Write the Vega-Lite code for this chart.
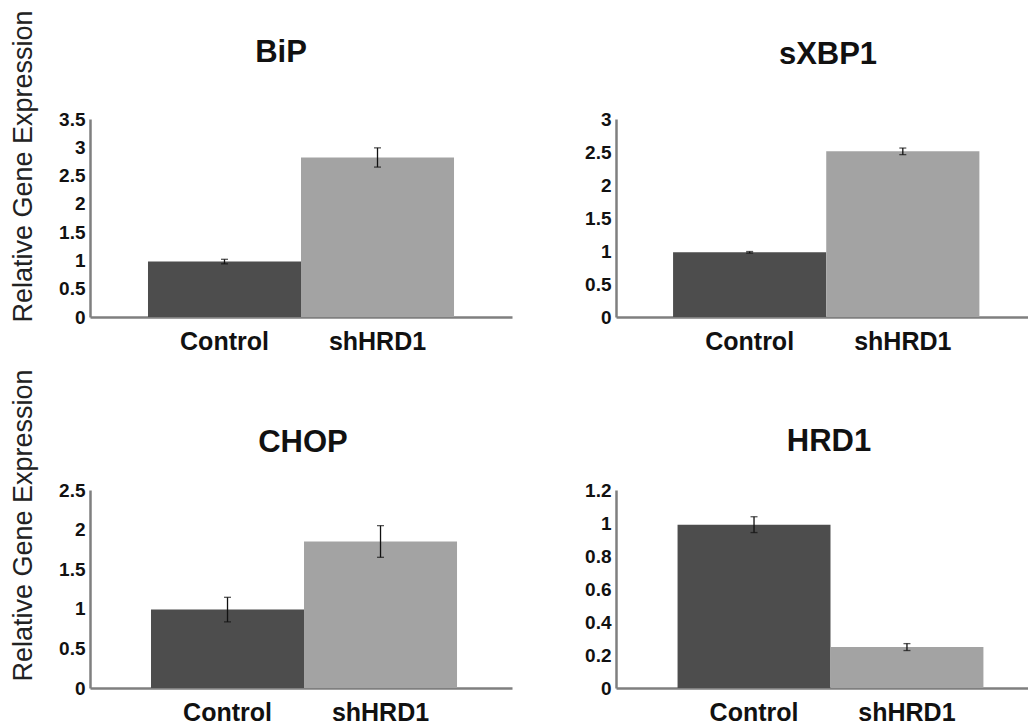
{
  "$schema": "https://vega.github.io/schema/vega-lite/v6.json",
  "autosize": {"type": "pad"},
  "padding": {"left": 8, "top": 9, "right": 0, "bottom": 0},
  "background": "white",
  "columns": 2,
  "align": "each",
  "bounds": "flush",
  "spacing": {"row": 173, "column": 104},
  "datasets": {
    "qpcr": [
      {"gene": "BiP", "group": "Control", "value": 0.98, "err": 0.04},
      {"gene": "BiP", "group": "shHRD1", "value": 2.82, "err": 0.17},
      {"gene": "sXBP1", "group": "Control", "value": 0.98, "err": 0.012},
      {"gene": "sXBP1", "group": "shHRD1", "value": 2.51, "err": 0.05},
      {"gene": "CHOP", "group": "Control", "value": 0.99, "err": 0.155},
      {"gene": "CHOP", "group": "shHRD1", "value": 1.85, "err": 0.2},
      {"gene": "HRD1", "group": "Control", "value": 0.99, "err": 0.048},
      {"gene": "HRD1", "group": "shHRD1", "value": 0.248, "err": 0.021}
    ]
  },
  "data": {"name": "qpcr"},
  "concat": [
    {
      "width": 422, "height": 198,
      "title": {"text": "BiP", "dx": -20, "offset": 50, "dy": 109},
      "transform": [{"filter": "datum.gene === 'BiP'"}],
      "encoding": {
        "x": {"field": "group", "type": "nominal", "sort": ["Control", "shHRD1"], "scale": {"paddingInner": 0, "paddingOuter": 0.379, "align": 0.5}, "axis": {"title": null}},
        "y": {"field": "value", "type": "quantitative", "scale": {"domain": [0, 3.5], "nice": false}, "axis": {"values": [0, 0.5, 1, 1.5, 2, 2.5, 3, 3.5], "format": "~g", "title": "Relative Gene Expression", "titleX": -67, "titleY": 47}}
      },
      "layer": [
        {"mark": {"type": "bar"}, "encoding": {"color": {"field": "group", "type": "nominal", "scale": {"domain": ["Control", "shHRD1"], "range": ["#4d4d4d", "#a3a3a3"]}, "legend": null}}},
        {"mark": {"type": "errorbar", "ticks": {"size": 7}, "color": "#111", "thickness": 1.3}, "encoding": {"yError": {"field": "err"}}}
      ]
    },
    {
      "width": 412, "height": 198,
      "title": {"text": "sXBP1", "dx": 6, "offset": 39},
      "transform": [{"filter": "datum.gene === 'sXBP1'"}],
      "encoding": {
        "x": {"field": "group", "type": "nominal", "sort": ["Control", "shHRD1"], "scale": {"paddingInner": 0, "paddingOuter": 0.345, "align": 0.54}, "axis": {"title": null}},
        "y": {"field": "value", "type": "quantitative", "scale": {"domain": [0, 3], "nice": false}, "axis": {"values": [0, 0.5, 1, 1.5, 2, 2.5, 3], "format": "~g", "title": null}}
      },
      "layer": [
        {"mark": {"type": "bar"}, "encoding": {"color": {"field": "group", "type": "nominal", "scale": {"domain": ["Control", "shHRD1"], "range": ["#4d4d4d", "#a3a3a3"]}, "legend": null}}},
        {"mark": {"type": "errorbar", "ticks": {"size": 7}, "color": "#111", "thickness": 1.3}, "encoding": {"yError": {"field": "err"}}}
      ]
    },
    {
      "width": 422, "height": 198,
      "title": {"text": "CHOP", "dx": 2, "offset": 32, "dy": 122},
      "transform": [{"filter": "datum.gene === 'CHOP'"}],
      "encoding": {
        "x": {"field": "group", "type": "nominal", "sort": ["Control", "shHRD1"], "scale": {"paddingInner": 0, "paddingOuter": 0.379, "align": 0.526}, "axis": {"title": null}},
        "y": {"field": "value", "type": "quantitative", "scale": {"domain": [0, 2.5], "nice": false}, "axis": {"values": [0, 0.5, 1, 1.5, 2, 2.5], "format": "~g", "title": "Relative Gene Expression", "titleX": -67, "titleY": 35}}
      },
      "layer": [
        {"mark": {"type": "bar"}, "encoding": {"color": {"field": "group", "type": "nominal", "scale": {"domain": ["Control", "shHRD1"], "range": ["#4d4d4d", "#a3a3a3"]}, "legend": null}}},
        {"mark": {"type": "errorbar", "ticks": {"size": 7}, "color": "#111", "thickness": 1.3}, "encoding": {"yError": {"field": "err"}}}
      ]
    },
    {
      "width": 412, "height": 198,
      "title": {"text": "HRD1", "dx": 7, "offset": 23},
      "transform": [{"filter": "datum.gene === 'HRD1'"}],
      "encoding": {
        "x": {"field": "group", "type": "nominal", "sort": ["Control", "shHRD1"], "scale": {"paddingInner": 0, "paddingOuter": 0.347, "align": 0.58}, "axis": {"title": null}},
        "y": {"field": "value", "type": "quantitative", "scale": {"domain": [0, 1.2], "nice": false}, "axis": {"values": [0, 0.2, 0.4, 0.6, 0.8, 1, 1.2], "format": "~g", "title": null}}
      },
      "layer": [
        {"mark": {"type": "bar"}, "encoding": {"color": {"field": "group", "type": "nominal", "scale": {"domain": ["Control", "shHRD1"], "range": ["#4d4d4d", "#a3a3a3"]}, "legend": null}}},
        {"mark": {"type": "errorbar", "ticks": {"size": 7}, "color": "#111", "thickness": 1.3}, "encoding": {"yError": {"field": "err"}}}
      ]
    }
  ],
  "config": {
    "font": "Liberation Sans",
    "view": {"stroke": null},
    "axis": {
      "grid": false, "ticks": false, "tickSize": 0,
      "domainColor": "#7f7f7f", "domainWidth": 2.5,
      "labelFont": "Liberation Sans", "labelFontWeight": "bold", "labelColor": "#111"
    },
    "axisX": {"labelFontSize": 25, "labelPadding": 12, "labelAngle": 0},
    "axisY": {
      "labelFontSize": 19, "labelPadding": 5,
      "titleFont": "Liberation Sans", "titleFontSize": 27, "titleFontWeight": "normal", "titleColor": "#222",
      "titleAlign": "center", "titleBaseline": "middle", "titleAngle": 270
    },
    "title": {"font": "Liberation Sans", "fontSize": 31, "fontWeight": "bold", "color": "#111", "frame": "group", "anchor": "middle"}
  }
}
